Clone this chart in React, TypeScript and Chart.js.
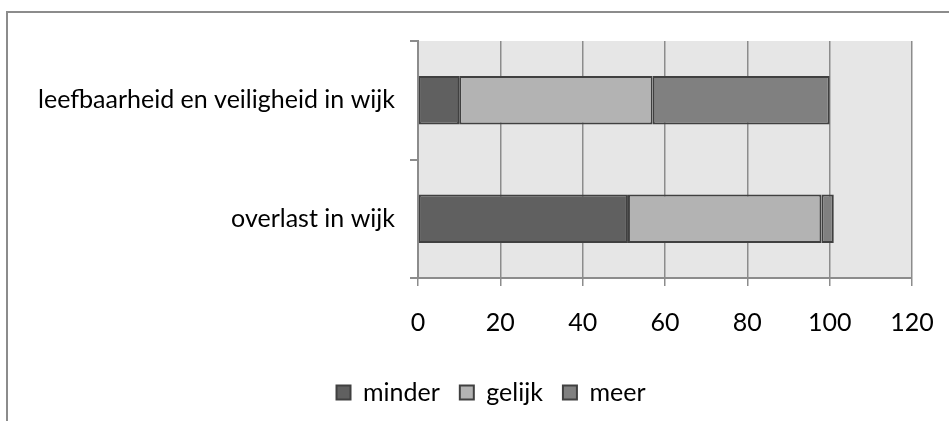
import React, { useEffect, useRef } from "react";
import { Chart, registerables } from "chart.js";

Chart.register(...registerables);

const categories = ["leefbaarheid en veiligheid in wijk", "overlast in wijk"];
const seriesNames = ["minder", "gelijk", "meer"];
const minderValues = [10, 51];
const gelijkValues = [47, 47];
const meerValues = [43, 3];
const xTicks = [0, 20, 40, 60, 80, 100, 120];

const FONT = "Lato";
const FS = 25;
const PAD_LEFT = 24;
const LEGEND_SHIFT = 23;

const decorPlugin = {
  id: "decor",
  afterLayout(chart: any) {
    const lg = chart.legend;
    if (lg) {
      lg.left += LEGEND_SHIFT;
      lg.right += LEGEND_SHIFT;
    }
  },
  beforeDraw(chart: any) {
    const { ctx, chartArea } = chart;
    ctx.save();
    ctx.fillStyle = "#e6e6e6";
    ctx.fillRect(chartArea.left, chartArea.top, chartArea.right - chartArea.left, chartArea.bottom - chartArea.top);
    ctx.strokeStyle = "#8c8c8c";
    ctx.lineWidth = 2;
    ctx.beginPath();
    ctx.moveTo(7, 421);
    ctx.lineTo(7, 12);
    ctx.lineTo(949, 12);
    ctx.stroke();
    ctx.restore();
  },
};

export default function App() {
  const ref = useRef<HTMLCanvasElement>(null);
  useEffect(() => {
    const canvas = ref.current!;
    const chart = new Chart(canvas, {
      type: "bar",
      data: {
        labels: categories,
        datasets: [
          { label: seriesNames[0], data: minderValues, backgroundColor: "#606060" },
          { label: seriesNames[1], data: gelijkValues, backgroundColor: "#b3b3b3" },
          { label: seriesNames[2], data: meerValues, backgroundColor: "#808080" },
        ].map((d) => ({
          ...d,
          borderColor: "#404040",
          borderWidth: 2,
          borderSkipped: false,
          barPercentage: 0.41,
          categoryPercentage: 1,
        })),
      },
      options: {
        indexAxis: "y",
        responsive: false,
        animation: false,
        layout: { padding: { left: PAD_LEFT, right: 37, top: 41, bottom: 6 } },
        scales: {
          x: {
            stacked: true,
            min: 0,
            max: 120,
            afterBuildTicks: (scale: any) => {
              scale.ticks = xTicks.map((v) => ({ value: v }));
            },
            afterFit: (scale: any) => {
              scale.height = 82;
            },
            grid: { color: "#8c8c8c", lineWidth: 1.5, tickLength: 8, drawTicks: true },
            border: { color: "#8c8c8c", width: 2 },
            ticks: {
              color: "#000",
              font: { family: FONT, size: FS, lineHeight: 1.84 },
              padding: 14,
              maxRotation: 0,
            },
          },
          y: {
            stacked: true,
            afterFit: (scale: any) => {
              scale.width = 418 - PAD_LEFT;
            },
            grid: { drawOnChartArea: false, drawTicks: true, tickLength: 8, color: "#8c8c8c", lineWidth: 2 },
            border: { color: "#8c8c8c", width: 2 },
            ticks: { color: "#000", font: { family: FONT, size: FS }, padding: 15 },
          },
        },
        plugins: {
          tooltip: { enabled: false },
          legend: {
            position: "bottom",
            labels: {
              color: "#000",
              font: { family: FONT, size: FS },
              boxWidth: 14,
              boxHeight: 14,
              padding: 20,
            },
          },
        },
      },
      plugins: [decorPlugin],
    } as any);
    return () => chart.destroy();
  }, []);
  return (
    <div style={{ position: "absolute", left: 0, top: 0, width: 949, height: 421, background: "#fff" }}>
      <canvas ref={ref} width={949} height={421} style={{ display: "block" }} />
    </div>
  );
}
